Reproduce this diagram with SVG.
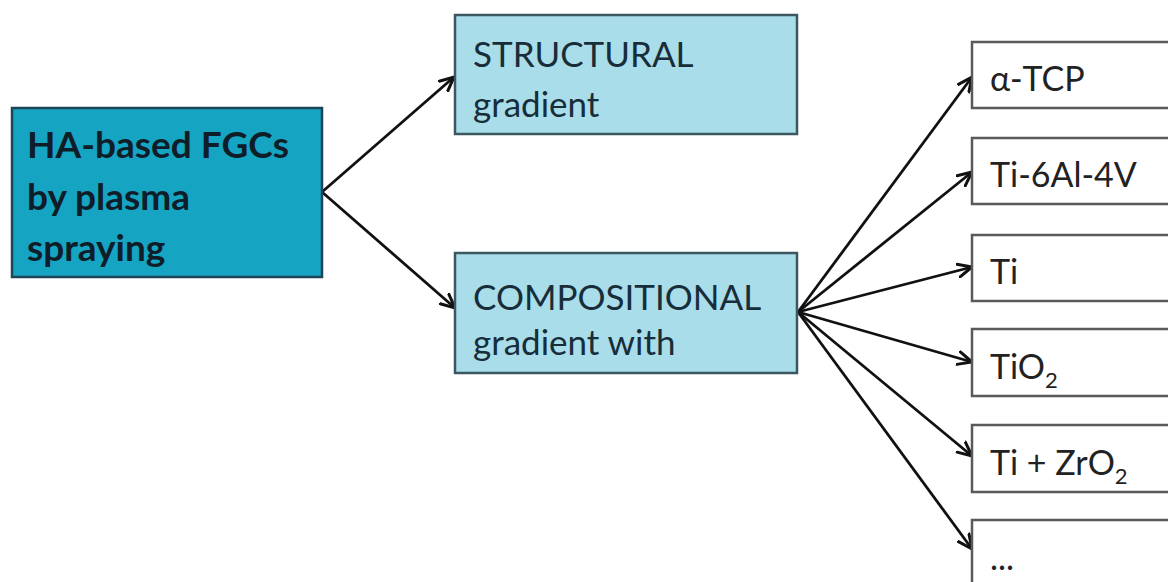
<svg xmlns="http://www.w3.org/2000/svg" width="1168" height="582" viewBox="0 0 1168 582">
<defs>
<marker id="ah" viewBox="0 0 16 16" refX="15" refY="8" markerWidth="16" markerHeight="16" markerUnits="userSpaceOnUse" orient="auto">
<path d="M1,1.5 L15,8 L1,14.5" fill="none" stroke="#111" stroke-width="3" stroke-linejoin="miter" stroke-linecap="round"/>
</marker>
</defs>
<style>
.main{fill:#16a4c3;stroke:#1d4556;stroke-width:2.5}
.mid{fill:#a9dde9;stroke:#3b5860;stroke-width:2.5}
.leaf{fill:#ffffff;stroke:#5a5a5a;stroke-width:2.5}
.tb{font-family:Lato,"Open Sans",sans-serif;font-weight:bold;font-size:37px;fill:#0e1d28}
.tm{font-family:Lato,"Open Sans",sans-serif;font-size:35px;fill:#172d3a}
.tl{font-family:Lato,"Open Sans",sans-serif;font-size:34px;fill:#222}
.sub{font-size:22px}
.con line{stroke:#111;stroke-width:2.8;marker-end:url(#ah)}
</style>
<rect width="1168" height="582" fill="#ffffff"/>
<g id="connectors" class="con">
<line x1="322" y1="192" x2="454" y2="77"/>
<line x1="322" y1="192" x2="455" y2="308"/>
<line x1="798" y1="312" x2="972" y2="77"/>
<line x1="798" y1="312" x2="972" y2="172"/>
<line x1="798" y1="312" x2="972" y2="267"/>
<line x1="798" y1="312" x2="972" y2="362"/>
<line x1="798" y1="312" x2="972" y2="456"/>
<line x1="798" y1="312" x2="972" y2="549"/>
</g>
<g id="node-main">
<rect class="main" x="12" y="108" width="310" height="169"/>
<text class="tb" x="27" y="158">HA-based FGCs</text>
<text class="tb" x="27" y="210">by plasma</text>
<text class="tb" x="27" y="261">spraying</text>
</g>
<g id="node-structural">
<rect class="mid" x="455" y="15" width="342" height="119"/>
<text class="tm" x="473" y="67">STRUCTURAL</text>
<text class="tm" x="473" y="117">gradient</text>
</g>
<g id="node-compositional">
<rect class="mid" x="455" y="253" width="342" height="120"/>
<text class="tm" x="473" y="310">COMPOSITIONAL</text>
<text class="tm" x="473" y="355">gradient with</text>
</g>
<g id="node-atcp">
<rect class="leaf" x="972" y="42" width="210" height="66"/>
<text class="tl" x="990" y="91">α-TCP</text>
</g>
<g id="node-ti6al4v">
<rect class="leaf" x="972" y="138" width="210" height="66"/>
<text class="tl" x="990" y="187">Ti-6Al-4V</text>
</g>
<g id="node-ti">
<rect class="leaf" x="972" y="235" width="210" height="66"/>
<text class="tl" x="990" y="284">Ti</text>
</g>
<g id="node-tio2">
<rect class="leaf" x="972" y="329" width="210" height="67"/>
<text class="tl" x="990" y="379">TiO<tspan class="sub" dy="9">2</tspan></text>
</g>
<g id="node-tizro2">
<rect class="leaf" x="972" y="425" width="210" height="67"/>
<text class="tl" x="990" y="475">Ti + ZrO<tspan class="sub" dy="9">2</tspan></text>
</g>
<g id="node-more">
<rect class="leaf" x="972" y="520" width="210" height="80"/>
<text class="tl" x="990" y="570">...</text>
</g>
</svg>
